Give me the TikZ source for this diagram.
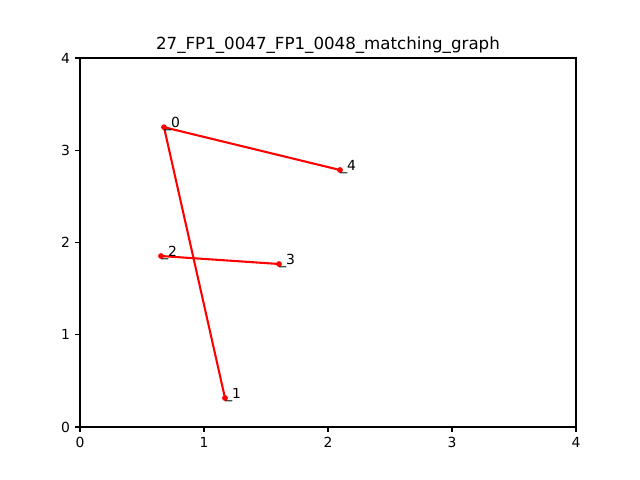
\documentclass[tikz,border=0pt]{standalone}
\usepackage{fontspec}
\setmainfont{DejaVu Sans}
\begin{document}
\begin{tikzpicture}[x=0.72pt,y=-0.72pt,
  edge/.style={draw=red,line width=1.5pt},
  pt/.style={circle,fill=red,inner sep=0pt,minimum size=4.2pt},
  lbl/.style={anchor=base west,inner sep=0pt,font=\fontsize{10}{12}\selectfont},
  tick/.style={line width=0.8pt},
  ticklbl/.style={inner sep=0pt,font=\fontsize{10}{12}\selectfont}]
\useasboundingbox (0,0) rectangle (640,480);
\fill[white] (0,0) rectangle (640,480);
% axes frame
\draw[line width=0.8pt] (80,58) rectangle (576,427);
% x ticks
\foreach \i in {0,1,2,3,4}{
  \draw[tick] (80+124*\i,427) -- (80+124*\i,431.9);
  \node[ticklbl,anchor=north] (xt\i) at (80+124*\i,436.8) {\i};
  \draw[tick] (80,427-92.25*\i) -- (75.1,427-92.25*\i);
  \node[ticklbl,anchor=east] (yt\i) at (70.3,427-92.25*\i) {\i};
}
% title
\node[anchor=base,inner sep=0pt,font=\fontsize{12}{14}\selectfont] (title) at (328,49.7) {27\_FP1\_0047\_FP1\_0048\_matching\_graph};
% nodes
\coordinate (p0) at (164,127.2);
\coordinate (p1) at (225,398);
\coordinate (p2) at (161,256);
\coordinate (p3) at (279,264);
\coordinate (p4) at (340,170);
\draw[edge] (p0) -- (p4);
\draw[edge] (p0) -- (p1);
\draw[edge] (p2) -- (p3);
\foreach \k in {0,...,4}{
  \node[pt] (d\k) at (p\k) {};
}
\foreach \k in {0,...,4}{
  \node[lbl] (l\k) at (p\k) {\_\k};
}
\end{tikzpicture}
\end{document}
